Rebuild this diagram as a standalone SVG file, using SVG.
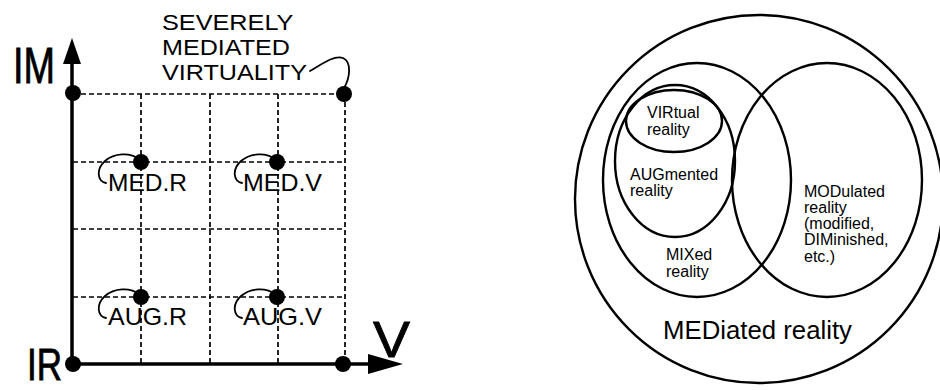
<svg xmlns="http://www.w3.org/2000/svg" width="940" height="390" viewBox="0 0 940 390">
  <style>
    .bg { fill: #fff; }
    .grid { stroke: #000; stroke-width: 1.7; stroke-dasharray: 5 3; fill: none; }
    .axis { stroke: #000; stroke-width: 3.5; fill: none; }
    .head { fill: #000; }
    .dot { fill: #000; }
    .hook { stroke: #000; stroke-width: 1.8; fill: none; stroke-linecap: round; }
    .lbl { font-family: "Liberation Sans", Arial, sans-serif; fill: #000; }
    .big { font-family: "Liberation Sans", Arial, sans-serif; fill: #000; stroke: #000; stroke-width: 0.8; }
    .ring { stroke: #000; stroke-width: 2.4; fill: none; }
    .vt { font-family: "Liberation Sans", Arial, sans-serif; font-size: 16px; fill: #000; }
  </style>
  <rect class="bg" x="0" y="0" width="940" height="390"/>

  <!-- Left: reality/virtuality vs mediation grid -->
  <g id="grid">
    <path class="grid" d="M73,94 H345 M73,162 H345 M73,229 H345 M73,297 H345"/>
    <path class="grid" d="M141,94 V364 M210,94 V364 M278,94 V364 M345,94 V364"/>
  </g>

  <g id="axes">
    <path class="axis" d="M72,364 V62"/>
    <polygon class="head" points="72,38 63,64 81,64"/>
    <path class="axis" d="M72,364 H370"/>
    <polygon class="head" points="403,364 368,354 368,374"/>
    <text class="big" x="13" y="83" font-size="50" textLength="42" lengthAdjust="spacingAndGlyphs">IM</text>
    <text class="big" x="27" y="380" font-size="44" textLength="35" lengthAdjust="spacingAndGlyphs">IR</text>
    <text class="big" x="373" y="357" font-size="50" textLength="37" lengthAdjust="spacingAndGlyphs">V</text>
  </g>

  <g id="origin"><circle class="dot" cx="73" cy="364" r="8"/></g>
  <g id="top-left"><circle class="dot" cx="73" cy="93" r="8"/></g>
  <g id="right-end"><circle class="dot" cx="343" cy="364" r="8"/></g>

  <g id="severely-mediated-virtuality">
    <circle class="dot" cx="344" cy="94" r="8"/>
    <path class="hook" d="M310,71 C322,64 334,55 343,58 C352,62 350,78 344,88"/>
    <text class="lbl" font-size="22">
      <tspan x="162" y="30" textLength="131" lengthAdjust="spacingAndGlyphs">SEVERELY</tspan>
      <tspan x="162" y="55" textLength="128" lengthAdjust="spacingAndGlyphs">MEDIATED</tspan>
      <tspan x="162" y="80" textLength="145" lengthAdjust="spacingAndGlyphs">VIRTUALITY</tspan>
    </text>
  </g>

  <g id="med-r">
    <circle class="dot" cx="141" cy="162" r="8"/>
    <path class="hook" d="M106,183 C97,181 96,169 105,161 C114,153 130,152 139,159"/>
    <text class="lbl" x="108" y="191" font-size="24" textLength="79" lengthAdjust="spacingAndGlyphs">MED.R</text>
  </g>
  <g id="med-v">
    <circle class="dot" cx="277" cy="162" r="8"/>
    <path class="hook" d="M242,183 C233,181 232,169 241,161 C250,153 266,152 275,159"/>
    <text class="lbl" x="243" y="191" font-size="24" textLength="79" lengthAdjust="spacingAndGlyphs">MED.V</text>
  </g>
  <g id="aug-r">
    <circle class="dot" cx="141" cy="297" r="8"/>
    <path class="hook" d="M106,318 C97,316 96,304 105,296 C114,288 130,287 139,294"/>
    <text class="lbl" x="108" y="325" font-size="24" textLength="79" lengthAdjust="spacingAndGlyphs">AUG.R</text>
  </g>
  <g id="aug-v">
    <circle class="dot" cx="277" cy="297" r="8"/>
    <path class="hook" d="M242,318 C233,316 232,304 241,296 C250,288 266,287 275,294"/>
    <text class="lbl" x="243" y="325" font-size="24" textLength="79" lengthAdjust="spacingAndGlyphs">AUG.V</text>
  </g>

  <!-- Right: nested sets of mediated reality -->
  <g id="mediated">
    <circle class="ring" cx="759" cy="199" r="184"/>
    <text class="lbl" x="663" y="339" font-size="25" textLength="189" lengthAdjust="spacingAndGlyphs">MEDiated reality</text>
  </g>
  <g id="mixed">
    <ellipse class="ring" cx="697" cy="180" rx="94" ry="117"/>
    <text class="vt"><tspan x="666" y="260">MIXed</tspan><tspan x="666" y="277">reality</tspan></text>
  </g>
  <g id="modulated">
    <ellipse class="ring" cx="827" cy="180" rx="95" ry="117"/>
    <text class="vt">
      <tspan x="804" y="197">MODulated</tspan>
      <tspan x="804" y="213">reality</tspan>
      <tspan x="804" y="229">(modified,</tspan>
      <tspan x="804" y="245">DIMinished,</tspan>
      <tspan x="804" y="262">etc.)</tspan>
    </text>
  </g>
  <g id="augmented">
    <ellipse class="ring" cx="675" cy="161" rx="60" ry="76"/>
    <text class="vt"><tspan x="630" y="180">AUGmented</tspan><tspan x="630" y="196">reality</tspan></text>
  </g>
  <g id="virtual">
    <ellipse class="ring" cx="674" cy="121" rx="48" ry="31"/>
    <text class="vt"><tspan x="647" y="118">VIRtual</tspan><tspan x="647" y="135">reality</tspan></text>
  </g>
</svg>
